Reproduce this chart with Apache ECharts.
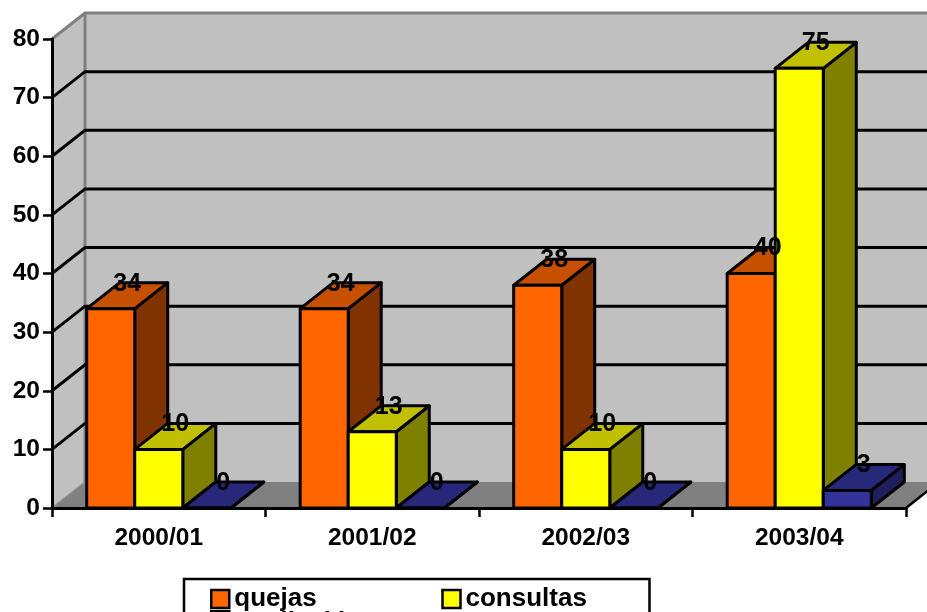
<!DOCTYPE html>
<html>
<head>
<meta charset="utf-8">
<style>
html,body{margin:0;padding:0;width:927px;height:612px;overflow:hidden;background:#fff}
#chart{width:927px;height:612px}
</style>
<script src="https://cdn.jsdelivr.net/npm/echarts@6/dist/echarts.min.js"></script>
</head>
<body>
<div id="chart"></div>
<script>
const categories = ['2000/01', '2001/02', '2002/03', '2003/04'];
const quejas = [34, 34, 38, 40];
const consultas = [10, 13, 10, 75];
const mediacion = [0, 0, 0, 3];
const yTicks = [10, 20, 30, 40, 50, 60, 70];

const FONT = '"Liberation Sans", Arial, sans-serif';
const DX = 33, DY = -26;          // oblique depth of the 3D projection
const BAR_SHARE = 0.225;          // bar width as a share of the category band
const EDGE = { stroke: '#000', lineWidth: 3, lineJoin: 'round' };

const chart = echarts.init(document.getElementById('chart'), null, { renderer: 'canvas' });

// Walls and floor of the 3D box, placed from the plot's own coordinate system
function renderBox(params, api) {
  const bottom = api.coord([categories[0], 0])[1];
  const cs = params.coordSys;
  const left = cs.x, right = cs.x + cs.width;
  const top = cs.y;
  const wallFill = '#c0c0c0', floorFill = '#808080', rim = { stroke: '#808080', lineWidth: 3 };
  return {
    type: 'group',
    children: [
      { type: 'polygon', shape: { points: [[left, bottom], [left + DX, bottom + DY], [left + DX, top + DY], [left, top]] }, style: { fill: wallFill } },
      { type: 'polygon', shape: { points: [[left + DX, top + DY], [right + DX, top + DY], [right + DX, bottom + DY], [left + DX, bottom + DY]] }, style: { fill: wallFill } },
      { type: 'polygon', shape: { points: [[left, bottom], [right, bottom], [right + DX, bottom + DY], [left + DX, bottom + DY]] }, style: { fill: floorFill } },
      { type: 'polyline', shape: { points: [[left, top], [left + DX, top + DY], [right + DX, top + DY]] }, style: Object.assign({ fill: 'none' }, rim) },
      { type: 'line', shape: { x1: left + DX, y1: top + DY, x2: left + DX, y2: bottom + DY }, style: rim },
      { type: 'line', shape: { x1: left, y1: bottom, x2: left + DX, y2: bottom + DY }, style: { stroke: '#8a8a8a', lineWidth: 1.5 } },
      { type: 'line', shape: { x1: right, y1: bottom, x2: right + DX, y2: bottom + DY }, style: { stroke: '#000', lineWidth: 2.5 } }
    ]
  };
}

// One gridline: up the side wall, then across the back wall
function renderGridLine(params, api) {
  const y = api.coord([categories[0], api.value(0)])[1];
  const cs = params.coordSys;
  return {
    type: 'polyline',
    shape: { points: [[cs.x, y], [cs.x + DX, y + DY], [cs.x + cs.width + DX, y + DY]] },
    style: { fill: 'none', stroke: '#000', lineWidth: 3 }
  };
}

// A cuboid bar: side, top and front faces plus the value written at its rear edge
function barRenderer(slot, faces) {
  return function (params, api) {
    const band = api.size([1, 0])[0];
    const w = band * BAR_SHARE;
    const idx = api.value(0);
    const value = api.value(1);
    const cx = api.coord([idx, 0])[0];
    const yBase = api.coord([idx, 0])[1];
    const yTop = api.coord([idx, value])[1];
    const xl = cx + (slot - 1.5) * w, xr = xl + w;
    return {
      type: 'group',
      children: [
        { type: 'polygon', shape: { points: [[xr, yBase], [xr + DX, yBase + DY], [xr + DX, yTop + DY], [xr, yTop]] }, style: Object.assign({ fill: faces.side }, EDGE) },
        { type: 'polygon', shape: { points: [[xl, yTop], [xr, yTop], [xr + DX, yTop + DY], [xl + DX, yTop + DY]] }, style: Object.assign({ fill: faces.top }, EDGE) },
        { type: 'rect', shape: { x: xl, y: yTop, width: w, height: yBase - yTop }, style: Object.assign({ fill: faces.front }, EDGE) },
        { type: 'text', z2: 100, style: { x: (xl + xr) / 2 + DX / 2, y: yTop + DY + 1, text: String(value), fill: '#000', font: 'bold 25px ' + FONT, align: 'center', verticalAlign: 'middle' } }
      ]
    };
  };
}

function barSeries(name, values, slot, faces) {
  return {
    name: name,
    type: 'custom',
    coordinateSystem: 'cartesian2d',
    itemStyle: { color: faces.front },
    encode: { x: 0, y: 1 },
    data: values.map((v, i) => [i, v]),
    renderItem: barRenderer(slot, faces),
    silent: true
  };
}

const legendText = { fontFamily: FONT, fontWeight: 'bold', fontSize: 26, color: '#000', lineHeight: 26, overflow: 'none' };
const markerStyle = color => ({ color: color, borderColor: '#000', borderWidth: 2.5 });
const legendShared = { itemWidth: 18, itemHeight: 18, selectedMode: false, icon: 'rect', textStyle: legendText };

chart.setOption({
  animation: false,
  backgroundColor: '#fff',
  grid: { left: 52, right: 21, top: 39, bottom: 104, containLabel: false },
  xAxis: {
    type: 'category',
    data: categories,
    z: 5,
    axisLine: { lineStyle: { color: '#000', width: 3 } },
    axisTick: { show: true, alignWithLabel: false, length: 9, lineStyle: { color: '#000', width: 2.5 } },
    axisLabel: { color: '#000', fontFamily: FONT, fontWeight: 'bold', fontSize: 24.5, margin: 18 },
    splitLine: { show: false }
  },
  yAxis: {
    type: 'value',
    min: 0,
    max: 80,
    interval: 10,
    z: 5,
    axisLine: { show: true, lineStyle: { color: '#000', width: 3 } },
    axisTick: { show: true, length: 9, lineStyle: { color: '#000', width: 2.5 } },
    axisLabel: { color: '#000', fontFamily: FONT, fontWeight: 'bold', fontSize: 24.5, margin: 12 },
    splitLine: { show: false }
  },
  legend: [
    Object.assign({}, legendShared, {
      left: 184,
      top: 579,
      width: 470,
      padding: [7, 4, 40, 26],
      itemGap: 3,
      backgroundColor: '#fff',
      borderColor: '#000',
      borderWidth: 2.5,
      borderRadius: 0,
      data: [
        { name: 'quejas', itemStyle: markerStyle('#ff6600'), textStyle: Object.assign({ width: 204 }, legendText) },
        { name: 'consultas', itemStyle: markerStyle('#ffff00'), textStyle: Object.assign({ width: 180 }, legendText) }
      ]
    }),
    Object.assign({}, legendShared, {
      left: 210,
      top: 610,
      padding: 0,
      itemHeight: 24,
      data: [{ name: 'mediación', itemStyle: markerStyle('#333399') }]
    })
  ],
  series: [
    { name: 'box', type: 'custom', coordinateSystem: 'cartesian2d', data: [[0, 0]], renderItem: renderBox, silent: true },
    { name: 'gridlines', type: 'custom', coordinateSystem: 'cartesian2d', encode: { y: 0 }, data: yTicks.map(v => [v]), renderItem: renderGridLine, silent: true },
    barSeries('quejas', quejas, 0, { front: '#ff6600', top: '#c65000', side: '#803300' }),
    barSeries('consultas', consultas, 1, { front: '#ffff00', top: '#c0c000', side: '#808000' }),
    barSeries('mediación', mediacion, 2, { front: '#333399', top: '#28287a', side: '#1f1f5c' })
  ]
});
</script>
</body>
</html>
